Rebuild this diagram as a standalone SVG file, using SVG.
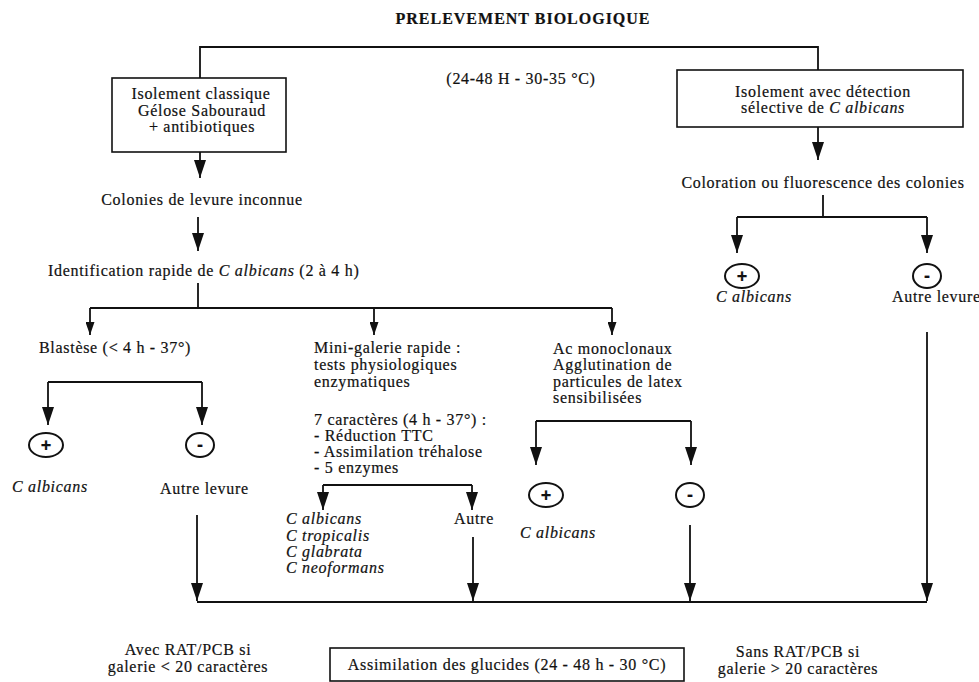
<svg xmlns="http://www.w3.org/2000/svg" width="979" height="682" viewBox="0 0 979 682">
<defs>
<style>
text{font-family:"Liberation Serif","Times New Roman",serif;font-size:16px;fill:#111;letter-spacing:0.7px;stroke:#111;stroke-width:0.2px}
.b{font-weight:bold}
.i{font-style:italic}
.m{text-anchor:middle}
.box{fill:none;stroke:#111;stroke-width:1.6}
.ln{fill:none;stroke:#111;stroke-width:1.8}
.big{marker-end:url(#ah)}
.sm{marker-end:url(#as)}
.circ{fill:none;stroke:#111;stroke-width:2}
.sign{font-family:"Liberation Sans",Arial,sans-serif;font-weight:bold;font-size:18px;text-anchor:middle;letter-spacing:0}
</style>
<marker id="ah" viewBox="0 0 18 12" refX="18" refY="6" markerWidth="18" markerHeight="12" markerUnits="userSpaceOnUse" orient="auto">
<path d="M0,0 L18,6 L0,12 z" fill="#111"/>
</marker>
<marker id="as" viewBox="0 0 13 9" refX="13" refY="4.5" markerWidth="13" markerHeight="9" markerUnits="userSpaceOnUse" orient="auto">
<path d="M0,0 L13,4.5 L0,9 z" fill="#111"/>
</marker>
</defs>
<rect width="979" height="682" fill="#fff"/>

<g id="title">
<text class="b m" x="523" y="24" style="letter-spacing:1px">PRELEVEMENT BIOLOGIQUE</text>
<text class="m" x="521" y="84">(24-48 H - 30-35 °C)</text>
</g>

<g id="connectors">
<path class="ln" d="M200,78 V47 H818 V70"/>
<path class="ln big" d="M200,152 V178"/>
<path class="ln big" d="M198,217 V251"/>
<path class="ln" d="M198,283 V308 M90,308 H612"/>
<path class="ln sm" d="M90,308 V335"/>
<path class="ln sm" d="M374,308 V335"/>
<path class="ln sm" d="M612,308 V335"/>
<path class="ln big" d="M818,127 V160"/>
<path class="ln" d="M823,195 V217 M737,217 H927"/>
<path class="ln big" d="M737,217 V253"/>
<path class="ln big" d="M927,217 V253"/>
<path class="ln" d="M48,382 H202"/>
<path class="ln big" d="M48,382 V425"/>
<path class="ln big" d="M202,382 V425"/>
<path class="ln" d="M323,485 H472"/>
<path class="ln big" d="M323,485 V510"/>
<path class="ln big" d="M472,485 V510"/>
<path class="ln" d="M536,421 H691"/>
<path class="ln big" d="M536,421 V465"/>
<path class="ln big" d="M691,421 V465"/>
<path class="ln big" d="M197,515 V601"/>
<path class="ln big" d="M473,537 V601"/>
<path class="ln big" d="M690,525 V601"/>
<path class="ln big" d="M927,332 V601"/>
<path class="ln" d="M197,602 H927"/>
</g>

<g id="isolement-classique">
<rect class="box" x="112" y="78" width="174" height="74"/>
<text class="m" x="201" y="99">Isolement classique</text>
<text class="m" x="202" y="116">Gélose Sabouraud</text>
<text class="m" x="202" y="132">+ antibiotiques</text>
</g>

<g id="isolement-selectif">
<rect class="box" x="677" y="70" width="286" height="57"/>
<text class="m" x="823" y="97">Isolement avec détection</text>
<text class="m" x="823" y="113">sélective de <tspan class="i">C albicans</tspan></text>
</g>

<g id="colonies">
<text class="m" x="202" y="205">Colonies de levure inconnue</text>
</g>

<g id="identification">
<text x="48" y="276">Identification rapide de <tspan class="i">C albicans</tspan> (2 à 4 h)</text>
</g>

<g id="coloration">
<text class="m" x="823" y="188">Coloration ou fluorescence des colonies</text>
</g>

<g id="col-pos">
<ellipse class="circ" cx="742" cy="276" rx="17" ry="12"/>
<text class="sign" x="742" y="282">+</text>
<text class="i" x="716" y="302">C albicans</text>
</g>
<g id="col-neg">
<ellipse class="circ" cx="927" cy="276" rx="14" ry="12"/>
<text class="sign" x="927" y="282">-</text>
<text x="892" y="302">Autre levure</text>
</g>

<g id="blastese">
<text x="39" y="353">Blastèse (&lt; 4 h - 37°)</text>
</g>
<g id="blast-pos">
<ellipse class="circ" cx="46" cy="445" rx="17" ry="12"/>
<text class="sign" x="46" y="451">+</text>
<text class="i" x="12" y="492">C albicans</text>
</g>
<g id="blast-neg">
<ellipse class="circ" cx="200" cy="445" rx="14" ry="12"/>
<text class="sign" x="200" y="451">-</text>
<text x="160" y="494">Autre levure</text>
</g>

<g id="mini-galerie">
<text x="314" y="353">Mini-galerie rapide :</text>
<text x="314" y="370">tests physiologiques</text>
<text x="314" y="387">enzymatiques</text>
<text x="314" y="425">7 caractères (4 h - 37°) :</text>
<text x="314" y="441">- Réduction TTC</text>
<text x="314" y="457">- Assimilation tréhalose</text>
<text x="314" y="473">- 5 enzymes</text>
</g>
<g id="mini-especes">
<text class="i" x="286" y="524">C albicans</text>
<text class="i" x="286" y="541">C tropicalis</text>
<text class="i" x="286" y="557">C glabrata</text>
<text class="i" x="286" y="573">C neoformans</text>
</g>
<g id="mini-autre">
<text x="454" y="524">Autre</text>
</g>

<g id="ac-monoclonaux">
<text x="553" y="354">Ac monoclonaux</text>
<text x="553" y="370">Agglutination de</text>
<text x="553" y="387">particules de latex</text>
<text x="553" y="403">sensibilisées</text>
</g>
<g id="ac-pos">
<ellipse class="circ" cx="546" cy="495" rx="17" ry="12"/>
<text class="sign" x="546" y="501">+</text>
<text class="i" x="520" y="538">C albicans</text>
</g>
<g id="ac-neg">
<ellipse class="circ" cx="690" cy="495" rx="14" ry="12"/>
<text class="sign" x="690" y="501">-</text>
</g>

<g id="avec-rat">
<text class="m" x="188" y="655">Avec RAT/PCB si</text>
<text class="m" x="188" y="672">galerie &lt; 20 caractères</text>
</g>
<g id="assimilation">
<rect class="box" x="330" y="648" width="354" height="33"/>
<text class="m" x="507" y="670">Assimilation des glucides (24 - 48 h - 30 °C)</text>
</g>
<g id="sans-rat">
<text class="m" x="798" y="657">Sans RAT/PCB si</text>
<text class="m" x="798" y="674">galerie &gt; 20 caractères</text>
</g>
</svg>
